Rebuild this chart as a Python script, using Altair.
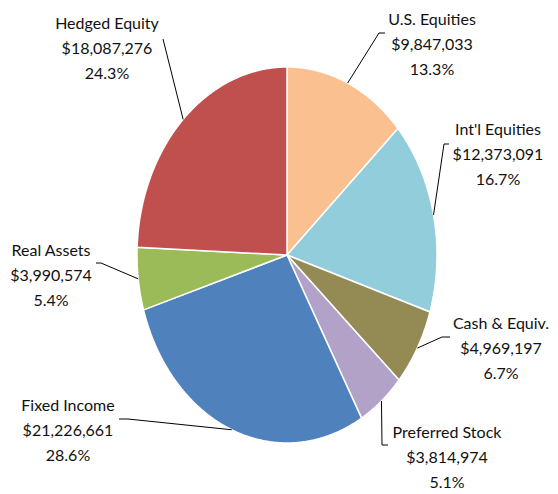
import altair as alt
import numpy as np
import pandas as pd

# ---- data ----
categories = ["U.S. Equities", "Int'l Equities", "Cash & Equiv.", "Preferred Stock",
              "Fixed Income", "Real Assets", "Hedged Equity"]
values = [9847033, 12373091, 4969197, 3814974, 21226661, 3990574, 18087276]
percents = [13.3, 16.7, 6.7, 5.1, 28.6, 5.4, 24.3]

# ---- style / layout ----
colors = ["#FAC090", "#92CDDC", "#948A54", "#B2A2C7", "#4F81BD", "#9BBB59", "#C0504D"]
W, H = 558, 494
CX, CY, RX, RY = 287, 255, 150, 188          # pie centre and semi-axes (pixels)
# centre x and first-line y of each label block
label_px = [(432, 20), (498, 130), (501, 324), (447, 433), (68, 406), (51, 251), (107, 24)]
leader_px = [[(385, 33), (379, 33)], [(449, 144), (444, 144)], [(450, 337), (442, 337)],
             [(388, 445), (382, 445)], [(119, 419), (128, 419)], [(96, 263), (101, 263)],
             [(163, 39)]]


def to_u(x):
    return (x - CX) / RX


def to_v(y):
    return (CY - y) / RY


# ---- build tables from the data ----
total = float(sum(values))
cum = np.concatenate([[0.0], np.cumsum(values)]) / total
slice_rows, leader_rows, label_rows = [], [], []
for i, cat in enumerate(categories):
    a0, a1 = 2 * np.pi * cum[i], 2 * np.pi * cum[i + 1]
    n = max(3, int(np.degrees(a1 - a0) * 2) + 2)
    ts = np.linspace(a0, a1, n)
    slice_rows.append({"cat": cat, "k": 0, "u": 0.0, "v": 0.0})
    for j, t in enumerate(ts):
        slice_rows.append({"cat": cat, "k": j + 1, "u": float(np.sin(t)), "v": float(np.cos(t))})
    slice_rows.append({"cat": cat, "k": n + 1, "u": 0.0, "v": 0.0})

    mid = (a0 + a1) / 2
    pts = [(to_u(x), to_v(y)) for x, y in leader_px[i]] + [(float(np.sin(mid)), float(np.cos(mid)))]
    for j, (u, v) in enumerate(pts):
        leader_rows.append({"cat": cat, "k": j, "u": u, "v": v})

    lx, ly = label_px[i]
    label_rows.append({"cat": cat, "u": to_u(lx), "v": to_v(ly),
                       "txt": f"{cat}\n${values[i]:,}\n{percents[i]:.1f}%"})

slices = pd.DataFrame(slice_rows)
leaders = pd.DataFrame(leader_rows)
labels = pd.DataFrame(label_rows)

xs = alt.Scale(domain=[to_u(0), to_u(W)], range=[0, W], nice=False, zero=False)
ys = alt.Scale(domain=[to_v(H), to_v(0)], range=[H, 0], nice=False, zero=False)

pie = alt.Chart(slices).mark_line(filled=True, stroke="white", strokeWidth=1.5,
                                  strokeJoin="round").encode(
    x=alt.X("u:Q", scale=xs, axis=None),
    y=alt.Y("v:Q", scale=ys, axis=None),
    color=alt.Color("cat:N", scale=alt.Scale(domain=categories, range=colors), legend=None),
    detail="cat:N",
    order="k:Q",
)

lead = alt.Chart(leaders).mark_line(color="#000000", strokeWidth=1).encode(
    x=alt.X("u:Q", scale=xs, axis=None),
    y=alt.Y("v:Q", scale=ys, axis=None),
    detail="cat:N",
    order="k:Q",
)

text = alt.Chart(labels).mark_text(lineBreak="\n", lineHeight=25, fontSize=16, font="Lato",
                                   align="center", baseline="middle", color="#111111").encode(
    x=alt.X("u:Q", scale=xs, axis=None),
    y=alt.Y("v:Q", scale=ys, axis=None),
    text="txt:N",
)

chart = alt.layer(pie, lead, text).properties(
    width=W, height=H, padding=0, autosize="none", background="white"
).configure_view(stroke=None)

chart.save("out.html", embed_options={"renderer": "svg", "actions": False})
